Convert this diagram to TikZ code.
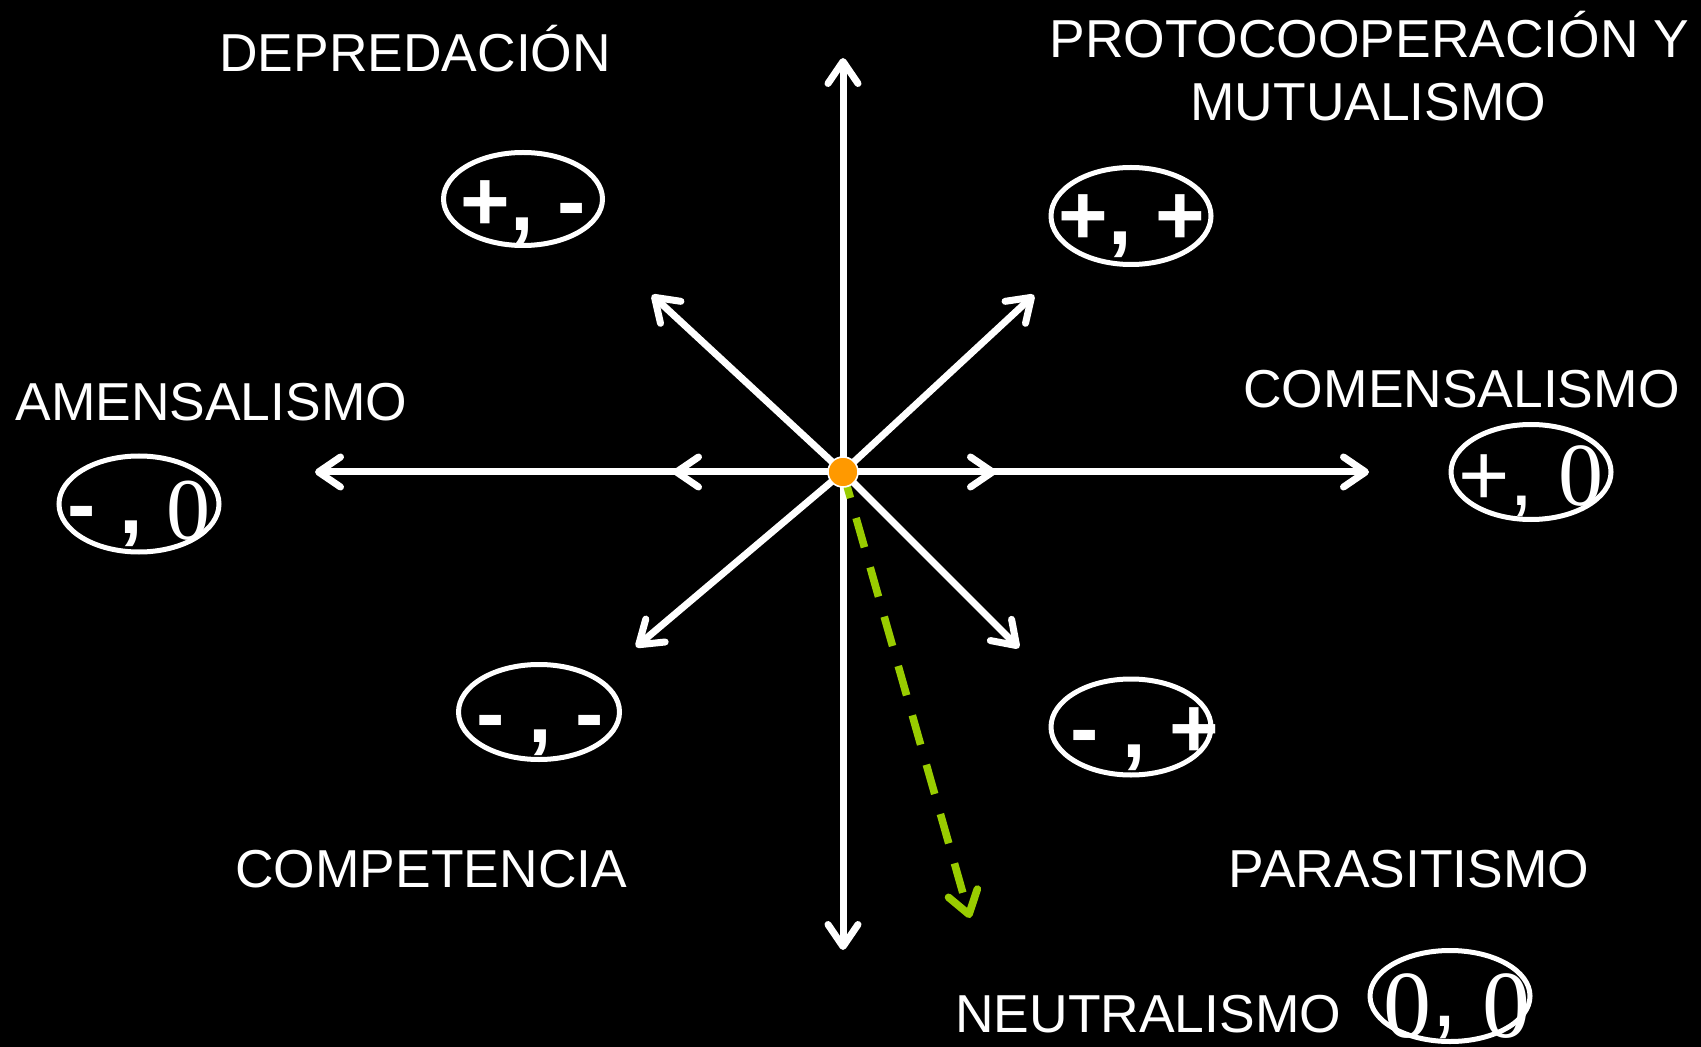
\documentclass[tikz,border=0pt]{standalone}
\usepackage{fontspec}
\setmainfont{Liberation Sans}
\newfontfamily\serifz{Liberation Serif}
\usetikzlibrary{arrows.meta,shapes.geometric}
\definecolor{dotorange}{HTML}{FF9900}
\definecolor{dashgreen}{HTML}{99CC00}
\tikzset{barb/.tip={Straight Barb[length=11pt,width=15pt,line cap=round,line join=round]}}
\begin{document}
\begin{tikzpicture}[x=0.5pt,y=-0.5pt,
  lbl/.style={text=white,font=\fontsize{26.7}{30}\selectfont,anchor=base west,inner sep=0pt},
  sgn/.style={text=white,font=\fontsize{42.5}{48}\selectfont\bfseries,anchor=base west,inner sep=0pt},
  ring/.style={draw=white,line width=2.5pt,ellipse,inner sep=0pt},
  axisline/.style={draw=white,line width=3.5pt,line cap=round}
]
\fill[black] (0,0) rectangle (1701,1047);
\useasboundingbox (0,0) rectangle (1701,1047);

% coordinates
\coordinate (o) at (843,472);
\coordinate (top) at (843,58);
\coordinate (bot) at (843,950);
\coordinate (lft) at (315,472);
\coordinate (rgt) at (1369,472);
\coordinate (lmid) at (673,472);
\coordinate (rmid) at (996,472);
\coordinate (ul) at (652,295);
\coordinate (ur) at (1034,295);
\coordinate (dl) at (636,647);
\coordinate (dr) at (1019,648);
\coordinate (g) at (970,918);

% axes and arrows
\draw[axisline,{barb}-{barb}] (bot) -- (top);
\draw[axisline,{barb}-{barb}] (lft) -- (rgt);
\draw[axisline,-{barb}] (o) -- (lmid);
\draw[axisline,-{barb}] (o) -- (rmid);
\draw[axisline,-{barb}] (o) -- (ul);
\draw[axisline,-{barb}] (o) -- (ur);
\draw[axisline,-{barb}] (o) -- (dl);
\draw[axisline,-{barb}] (o) -- (dr);
\draw[draw=dashgreen,line width=3.8pt,dash pattern=on 15.25pt off 10.4pt,dash phase=1.75pt,-{barb}] (o) -- (g);
\node[circle,fill=dotorange,draw=white,line width=0.8pt,minimum size=15pt,inner sep=0pt] (dot) at (o) {};

% labels
\node[lbl] (depre) at (219,72) {DEPREDACIÓN};
\node[lbl] (proto1) at (1049,57.5) {PROTOCOOPERACIÓN Y};
\node[lbl] (proto2) at (1190,121) {MUTUALISMO};
\node[lbl] (amen) at (15,421) {AMENSALISMO};
\node[lbl] (come) at (1243,408) {COMENSALISMO};
\node[lbl] (compe) at (235,887) {COMPETENCIA};
\node[lbl] (para) at (1228,887) {PARASITISMO};
\node[lbl] (neutro) at (955,1032) {NEUTRALISMO};

% ellipses
\node[ring,minimum width=79.5pt,minimum height=46.5pt] (e1) at (523,199) {};
\node[ring,minimum width=80pt,minimum height=48.5pt] (e2) at (1131,216) {};
\node[ring,minimum width=80pt,minimum height=48pt] (e3) at (139,504) {};
\node[ring,minimum width=80pt,minimum height=47.5pt] (e4) at (1531,472) {};
\node[ring,minimum width=80.5pt,minimum height=47.5pt] (e5) at (539,712) {};
\node[ring,minimum width=80pt,minimum height=48pt] (e6) at (1131,727) {};
\node[ring,minimum width=80pt,minimum height=45.5pt] (e7) at (1450,996) {};

% signs
\node[sgn] (s1) at (460,231) {+, -};
\node[sgn] (s2) at (1058,245) {+, +};
\node[sgn] (s3) at (67,533) {- , \raisebox{-3pt}{\serifz\mdseries\fontsize{44}{48}\selectfont 0}};
\node[sgn,font=\fontsize{44}{48}\selectfont] (s4) at (1458,505) {+, {\serifz\fontsize{45}{48}\selectfont 0}};
\node[sgn] (s5) at (476,742) {- , -};
\node[sgn] (s6) at (1070,757) {- , +};
\node[sgn,font=\fontsize{48}{52}\selectfont\serifz] (s7) at (1383,1037) {0\raisebox{5.5pt}{\normalfont\fontsize{48}{52}\selectfont,} 0};
\end{tikzpicture}
\end{document}
